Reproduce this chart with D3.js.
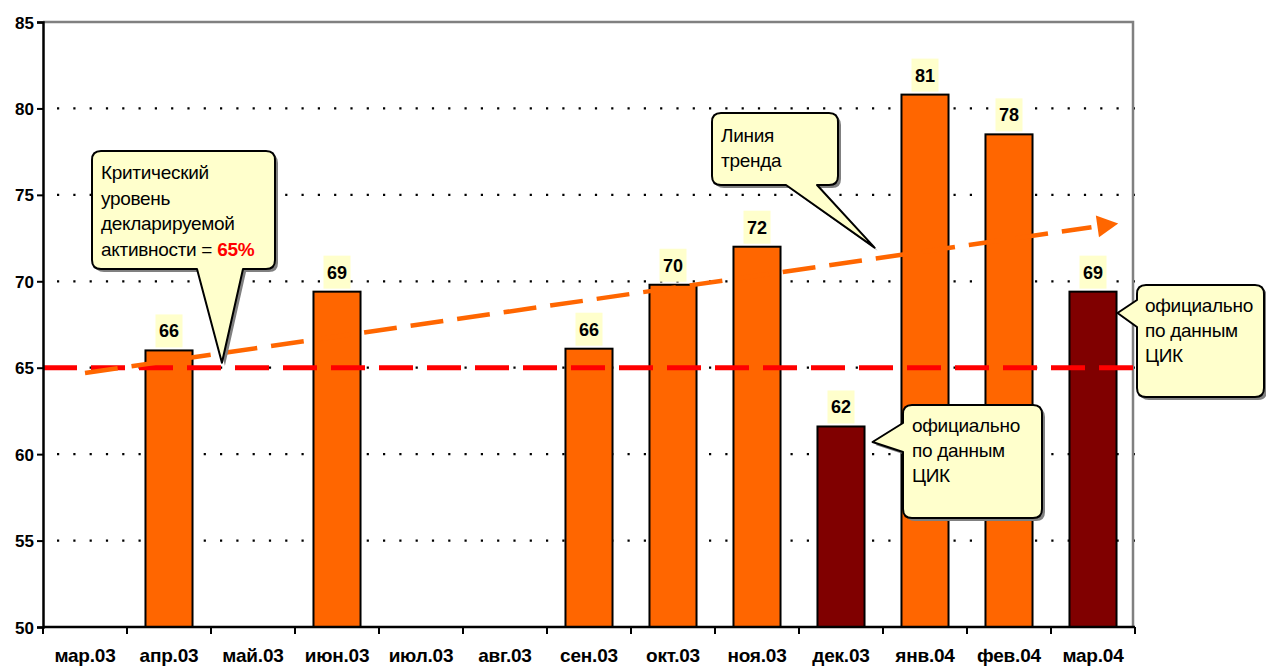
<!DOCTYPE html>
<html>
<head>
<meta charset="utf-8">
<script src="https://cdn.jsdelivr.net/npm/d3@7"></script>
<style>
  body { margin: 0; background: #fff; }
  text { font-family: "Liberation Sans", Arial, sans-serif; }
</style>
</head>
<body>
<div id="chart"></div>
<script>
// data
var months = ["мар.03", "апр.03", "май.03", "июн.03", "июл.03", "авг.03", "сен.03",
              "окт.03", "ноя.03", "дек.03", "янв.04", "фев.04", "мар.04"];
var values = [null, 66.0, null, 69.4, null, null, 66.1, 69.8, 72.0, 61.6, 80.8, 78.5, 69.4];
var labels = [null, "66", null, "69", null, null, "66", "70", "72", "62", "81", "78", "69"];
var official = [false, false, false, false, false, false, false, false, false, true, false, false, true];
var yTicks = [50, 55, 60, 65, 70, 75, 80, 85];
var criticalLevel = 65;
// trend arrow: [category position, value]
var trendFrom = [0, 64.7];
var trendTo = [12.3, 73.35];

var margin = {top: 22, right: 131, bottom: 41, left: 43},
    width = 1266 - margin.left - margin.right,
    height = 668 - margin.top - margin.bottom;

var svg = d3.select("#chart")
  .append("svg")
    .attr("width", 1266)
    .attr("height", 668)
  .append("g")
    .attr("transform", "translate(" + margin.left + "," + margin.top + ")");

var x = d3.scaleBand()
  .domain(months)
  .range([0, width])
  .paddingInner(0.44)
  .paddingOuter(0.22);

// continuous position along categories (index -> center of band)
var step = width / months.length;
var xPos = function(i) { return step * (i + 0.5); };

var y = d3.scaleLinear()
  .domain([50, 85])
  .range([height, 0]);

// dotted grid
svg.append("g")
  .selectAll("line")
  .data(yTicks.filter(function(d) { return d > 50 && d < 85; }))
  .enter()
  .append("line")
    .attr("x1", 0)
    .attr("x2", width)
    .attr("y1", function(d) { return y(d); })
    .attr("y2", function(d) { return y(d); })
    .attr("stroke", "#000")
    .attr("stroke-width", 2.2)
    .attr("stroke-dasharray", "2.2,14.1")
    .attr("stroke-dashoffset", -14);

// top and right border
svg.append("path")
  .attr("d", "M0," + y(85) + "H" + (width - 2) + "V" + height)
  .attr("fill", "none")
  .attr("stroke", "#808080")
  .attr("stroke-width", 2.5);

// bars
svg.append("g")
  .selectAll("rect")
  .data(values.map(function(v, i) { return {m: months[i], v: v, off: official[i]}; })
                .filter(function(d) { return d.v != null; }))
  .enter()
  .append("rect")
    .attr("x", function(d) { return x(d.m); })
    .attr("width", x.bandwidth())
    .attr("y", function(d) { return y(d.v); })
    .attr("height", function(d) { return height - y(d.v); })
    .attr("fill", function(d) { return d.off ? "#800000" : "#ff6600"; })
    .attr("stroke", "#000")
    .attr("stroke-width", 2);

// value labels
var lab = svg.append("g")
  .selectAll("g")
  .data(values.map(function(v, i) { return {m: months[i], v: v, t: labels[i]}; })
                .filter(function(d) { return d.v != null; }))
  .enter()
  .append("g")
    .attr("transform", function(d) {
      return "translate(" + (x(d.m) + x.bandwidth() / 2) + "," + (y(d.v) - 3) + ")";
    });
lab.append("rect")
  .attr("x", -13.5)
  .attr("y", -33)
  .attr("width", 27)
  .attr("height", 33)
  .attr("fill", "#ffffcc");
lab.append("text")
  .attr("text-anchor", "middle")
  .attr("y", -10)
  .attr("font-size", 18)
  .attr("font-weight", "bold")
  .text(function(d) { return d.t; });

// critical level line
svg.append("line")
  .attr("x1", 0)
  .attr("x2", width - 2)
  .attr("y1", y(criticalLevel))
  .attr("y2", y(criticalLevel))
  .attr("stroke", "#ff0000")
  .attr("stroke-width", 5)
  .attr("stroke-dasharray", "34,14");

// trend arrow
var tx1 = xPos(trendFrom[0]), ty1 = y(trendFrom[1]),
    tx2 = xPos(trendTo[0]), ty2 = y(trendTo[1]);
var ang = Math.atan2(ty2 - ty1, tx2 - tx1);
var headLen = 21, headW = 11;
var bx = tx2 - headLen * Math.cos(ang), by = ty2 - headLen * Math.sin(ang);
svg.append("line")
  .attr("x1", tx1).attr("y1", ty1)
  .attr("x2", bx - 6 * Math.cos(ang)).attr("y2", by - 6 * Math.sin(ang))
  .attr("stroke", "#ff6600")
  .attr("stroke-width", 4.5)
  .attr("stroke-dasharray", "33,14");
svg.append("path")
  .attr("d", "M" + tx2 + "," + ty2 +
             "L" + (bx + headW * Math.sin(ang)) + "," + (by - headW * Math.cos(ang)) +
             "L" + (bx - headW * Math.sin(ang)) + "," + (by + headW * Math.cos(ang)) + "Z")
  .attr("fill", "#ff6600");

// y axis
var yAxis = svg.append("g")
  .call(d3.axisLeft(y).tickValues(yTicks).tickSize(6).tickPadding(3));
yAxis.select(".domain").attr("stroke", "#000").attr("stroke-width", 2.5);
yAxis.selectAll(".tick line").attr("stroke", "#000").attr("stroke-width", 2);
yAxis.selectAll("text")
  .attr("font-size", 17)
  .attr("font-weight", "bold")
  .attr("fill", "#000")
  .attr("dy", "0.36em")
  .style("font-family", "'Liberation Sans', Arial, sans-serif");

// x axis (ticks at band boundaries)
var xAxis = svg.append("g")
  .attr("transform", "translate(0," + height + ")");
xAxis.append("line")
  .attr("x1", 0).attr("x2", width)
  .attr("stroke", "#000").attr("stroke-width", 2.5);
xAxis.selectAll(".xt")
  .data(d3.range(months.length + 1))
  .enter()
  .append("line")
    .attr("x1", function(i) { return step * i; })
    .attr("x2", function(i) { return step * i; })
    .attr("y1", 0).attr("y2", 7)
    .attr("stroke", "#000").attr("stroke-width", 2);
xAxis.selectAll(".xl")
  .data(months)
  .enter()
  .append("text")
    .attr("x", function(d) { return x(d) + x.bandwidth() / 2; })
    .attr("y", 35)
    .attr("text-anchor", "middle")
    .attr("font-size", 19)
    .attr("font-weight", "bold")
    .attr("letter-spacing", -0.2)
    .text(function(d) { return d; });

// callouts (speech bubbles)
var root = d3.select("svg");
function bubble(box, pointer, lines) {
  var bx0 = box.x, by0 = box.y, w = box.w, h = box.h, r = 9;
  var p = d3.path();
  p.moveTo(bx0 + r, by0);
  p.lineTo(bx0 + w - r, by0);
  p.quadraticCurveTo(bx0 + w, by0, bx0 + w, by0 + r);
  p.lineTo(bx0 + w, by0 + h - r);
  p.quadraticCurveTo(bx0 + w, by0 + h, bx0 + w - r, by0 + h);
  if (pointer.side === "bottom") {
    p.lineTo(pointer.b2, by0 + h);
    p.lineTo(pointer.tx, pointer.ty);
    p.lineTo(pointer.b1, by0 + h);
  }
  p.lineTo(bx0 + r, by0 + h);
  p.quadraticCurveTo(bx0, by0 + h, bx0, by0 + h - r);
  if (pointer.side === "left") {
    p.lineTo(bx0, pointer.b2);
    p.lineTo(pointer.tx, pointer.ty);
    p.lineTo(bx0, pointer.b1);
  }
  p.lineTo(bx0, by0 + r);
  p.quadraticCurveTo(bx0, by0, bx0 + r, by0);
  p.closePath();
  var g = root.append("g");
  g.append("path").attr("d", p.toString())
    .attr("transform", "translate(3,3)")
    .attr("fill", "#808080");
  g.append("path").attr("d", p.toString())
    .attr("fill", "#ffffcc")
    .attr("stroke", "#000")
    .attr("stroke-width", 2)
    .attr("stroke-linejoin", "round");
  lines.forEach(function(l, i) {
    var t = g.append("text")
      .attr("x", box.tx)
      .attr("y", box.ty + i * box.lh)
      .attr("font-size", 19)
      .attr("letter-spacing", -0.3)
      .attr("fill", "#000");
    l.forEach(function(part) {
      t.append("tspan")
        .attr("fill", part.c || "#000")
        .attr("font-weight", part.b ? "bold" : null)
        .text(part.s);
    });
  });
}

var ml = margin.left, mt = margin.top;

bubble({x: 92, y: 151, w: 183, h: 118, tx: 101, ty: 179, lh: 25.5},
       {side: "bottom", b1: 197, b2: 243, tx: ml + xPos(1.63), ty: mt + y(criticalLevel) - 5},
       [[{s: "Критический"}], [{s: "уровень"}], [{s: "декларируемой"}],
        [{s: "активности = "}, {s: "65%", c: "#ff0000", b: true}]]);

var trendAt = function(pos) {
  return trendFrom[1] + (trendTo[1] - trendFrom[1]) * (pos - trendFrom[0]) / (trendTo[0] - trendFrom[0]);
};
bubble({x: 712, y: 113, w: 126, h: 72, tx: 721, ty: 142, lh: 25},
       {side: "bottom", b1: 786, b2: 817, tx: ml + xPos(9.4), ty: mt + y(trendAt(9.4)) - 11},
       [[{s: "Линия"}], [{s: "тренда"}]]);

bubble({x: 903, y: 405, w: 139, h: 113, tx: 912, ty: 432, lh: 25},
       {side: "left", b1: 423, b2: 452, tx: ml + x("дек.03") + x.bandwidth() + 8, ty: 442},
       [[{s: "официально"}], [{s: "по данным"}], [{s: "ЦИК"}]]);

bubble({x: 1137, y: 285, w: 127, h: 112, tx: 1145, ty: 312, lh: 25},
       {side: "left", b1: 300, b2: 327, tx: ml + x("мар.04") + x.bandwidth() + 1, ty: 313},
       [[{s: "официально"}], [{s: "по данным"}], [{s: "ЦИК"}]]);
</script>
</body>
</html>
